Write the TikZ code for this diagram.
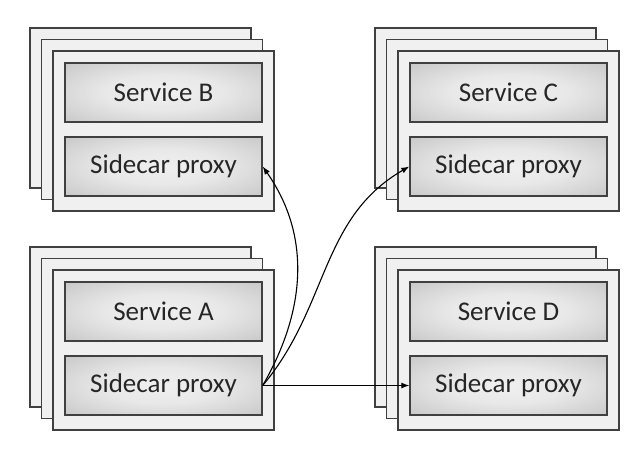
\documentclass[tikz,border=0pt]{standalone}
\usepackage{fontspec}
\setmainfont{Carlito}
\usepackage{tikz}
\usetikzlibrary{arrows.meta}
\pgfdeclarelayer{nodelayer}
\pgfdeclarelayer{edgelayer}
\pgfsetlayers{main,nodelayer,edgelayer}
\pgfdeclareradialshading{partshade}{\pgfpoint{0bp}{0bp}}{color(0bp)=(black!6); color(15bp)=(black!9); color(50bp)=(black!30); color(71bp)=(black!40)}
\tikzset{frame/.style={draw=black!75, fill=black!6, line width=1.4pt, minimum width=221pt, minimum height=160pt, inner sep=0pt}}
\tikzset{part/.style={draw=black!75, line width=1.4pt, shading=partshade, minimum width=197pt, minimum height=59pt, inner sep=0pt, text=black!85, font=\fontsize{27}{32}\selectfont}}
\tikzset{link/.style={line width=1.1pt, -{Latex[length=8pt,width=6pt]}}}

\begin{document}
\begin{tikzpicture}[x=1pt, y=1pt]
	\useasboundingbox (0, 0) rectangle (642, 453);
	\begin{pgfonlayer}{nodelayer}
		% service B
		\node [style=frame] (0) at (140.5, 345) {};
		\node [style=frame] (1) at (152, 333.5) {};
		\node [style=frame] (2) at (163.5, 322) {};
		\node [style=part] (3) at (163.5, 360.5) {Service B};
		\node [style=part] (4) at (163.5, 286.5) {Sidecar proxy};
		% service C
		\node [style=frame] (5) at (485.5, 345) {};
		\node [style=frame] (6) at (497, 333.5) {};
		\node [style=frame] (7) at (508.5, 322) {};
		\node [style=part] (8) at (508.5, 360.5) {Service C};
		\node [style=part] (9) at (508.5, 286.5) {Sidecar proxy};
		% service A
		\node [style=frame] (10) at (140.5, 126) {};
		\node [style=frame] (11) at (152, 114.5) {};
		\node [style=frame] (12) at (163.5, 103) {};
		\node [style=part] (13) at (163.5, 141.5) {Service A};
		\node [style=part] (14) at (163.5, 67.5) {Sidecar proxy};
		% service D
		\node [style=frame] (15) at (485.5, 126) {};
		\node [style=frame] (16) at (497, 114.5) {};
		\node [style=frame] (17) at (508.5, 103) {};
		\node [style=part] (18) at (508.5, 141.5) {Service D};
		\node [style=part] (19) at (508.5, 67.5) {Sidecar proxy};
	\end{pgfonlayer}
	\begin{pgfonlayer}{edgelayer}
		\draw [style=link, in=-55, out=60, looseness=1.00] (14.east) to (4.east);
		\draw [style=link, in=-150, out=50, looseness=1.00] (14.east) to (9.west);
		\draw [style=link] (14.east) to (19.west);
	\end{pgfonlayer}
\end{tikzpicture}
\end{document}
